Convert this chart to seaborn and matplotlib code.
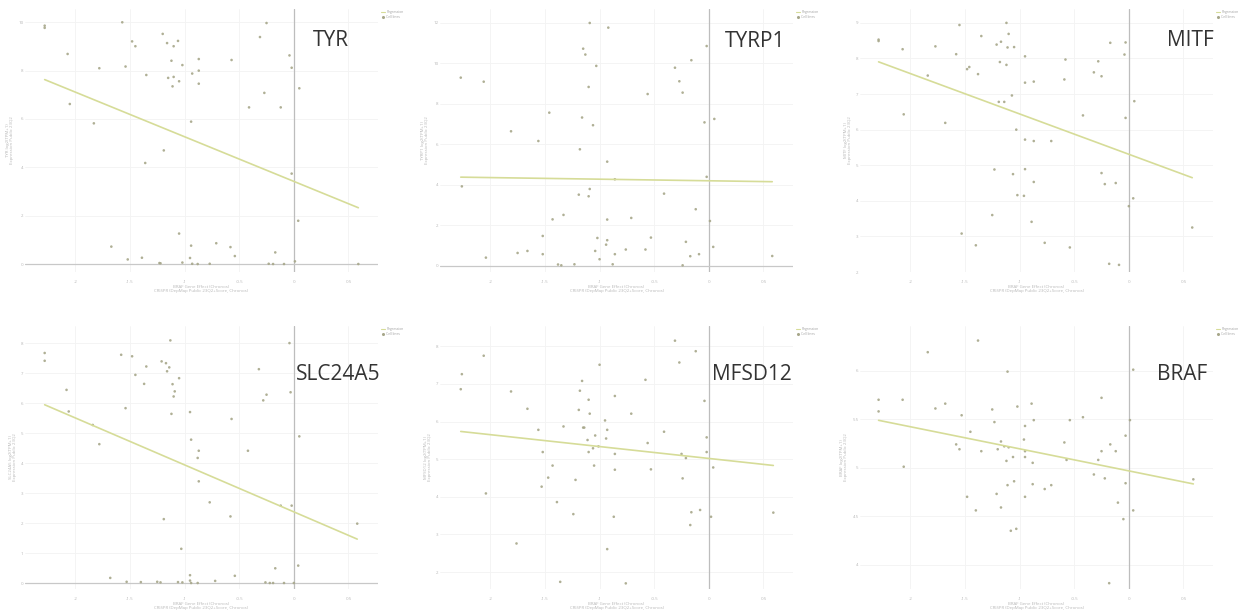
import matplotlib
matplotlib.use("Agg")
import matplotlib.pyplot as plt
import seaborn as sns
import pandas as pd

sns.set_theme(style="white")
plt.rcParams['font.family'] = ['Open Sans', 'DejaVu Sans']

# ---- data (x = BRAF gene effect, y = expression) ----
tyr_x = [-2.28, -2.28, -1.57, -0.25, -1.20, -0.31, -1.48, -1.45, -1.16, -1.06, -1.10, -2.07, -0.04,
         -1.12, -0.87, -0.57, -1.02, -1.78, -1.54, -0.02, -0.87, -1.35, -0.93, -1.15, -1.10, -1.05,
         -1.11, -0.87, 0.05, -0.27, -2.05, -0.41, -0.12, -0.94, -1.83, -1.19, -1.36, -0.02, 0.04,
         -1.05, -1.67, -0.94, -0.71, -0.58, -0.17, -0.54, -1.52, -1.39, -0.95, -1.23, -1.22, -1.02,
         -0.93, -0.88, -0.77, -0.23, -0.19, -0.09, 0.01, 0.59]
tyr_y = [9.86, 9.77, 10.0, 9.97, 9.52, 9.39, 9.21, 9.01, 9.14, 9.23, 9.01, 8.69, 8.63,
         8.41, 8.48, 8.44, 8.23, 8.10, 8.17, 8.12, 8.00, 7.82, 7.88, 7.70, 7.74, 7.56,
         7.35, 7.46, 7.27, 7.08, 6.62, 6.48, 6.48, 5.89, 5.82, 4.70, 4.18, 3.74, 1.79,
         1.26, 0.72, 0.76, 0.86, 0.70, 0.48, 0.33, 0.19, 0.26, 0.25, 0.04, 0.03, 0.06,
         0.01, 0.0, 0.01, 0.01, 0.0, 0.0, 0.11, 0.0]

tyrp1_x = [-1.09, -0.92, -0.02, -1.15, -1.13, -0.16, -1.03, -0.31, -2.27, -2.06, -0.27, -1.10, -0.24,
           -0.56, -1.46, -1.16, 0.05, -0.04, -1.06, -1.81, -1.56, -1.18, -0.93, -0.02, -0.86, -2.26,
           -1.09, -1.19, -1.10, -0.41, -0.12, -1.33, -1.43, -0.93, -0.71, 0.01, -1.52, -1.02, -0.53,
           -0.93, -0.94, -0.21, 0.04, -1.75, -1.66, -1.04, -0.76, -0.58, -1.52, -0.86, -0.09, -2.04,
           -1.00, -0.17, 0.58, -1.38, -1.35, -1.23, -0.88, -0.24]
tyrp1_y = [12.0, 11.77, 10.86, 10.73, 10.44, 10.16, 9.88, 9.79, 9.30, 9.10, 9.12, 8.84, 8.56,
           8.49, 7.57, 7.33, 7.26, 7.09, 6.95, 6.65, 6.17, 5.76, 5.15, 4.40, 4.28, 3.93,
           3.80, 3.52, 3.44, 3.57, 2.80, 2.52, 2.30, 2.29, 2.37, 2.22, 1.48, 1.38, 1.40,
           1.27, 1.05, 1.19, 0.94, 0.64, 0.74, 0.74, 0.81, 0.81, 0.58, 0.58, 0.58, 0.41,
           0.33, 0.48, 0.49, 0.07, 0.03, 0.08, 0.08, 0.03]

mitf_x = [-1.12, -1.55, -2.29, -2.29, -1.35, -1.10, -1.21, -1.17, -1.11, -1.05, -0.17, -0.03, -1.77,
          -2.07, -1.58, -0.95, -0.04, -0.58, -0.28, -1.18, -1.12, -1.46, -1.48, -0.32, -1.38, -0.25,
          -1.84, -0.95, -0.87, -0.59, -1.07, -1.19, -1.14, 0.05, -2.06, -0.42, -0.03, -1.68, -1.03,
          -0.95, -0.87, -0.71, -1.23, -1.06, -0.95, -0.25, -0.22, -0.12, -0.87, -1.02, -0.96, 0.04,
          0.0, -1.25, -0.89, 0.58, -1.53, -1.40, -0.77, -0.54, -0.18, -0.09]
mitf_y = [9.0, 8.94, 8.53, 8.49, 8.63, 8.69, 8.39, 8.47, 8.31, 8.32, 8.44, 8.45, 8.34,
          8.26, 8.12, 8.06, 8.11, 7.97, 7.92, 7.90, 7.82, 7.76, 7.70, 7.61, 7.56, 7.50,
          7.52, 7.32, 7.35, 7.41, 6.96, 6.78, 6.78, 6.80, 6.43, 6.40, 6.33, 6.19, 6.00,
          5.72, 5.68, 5.68, 4.88, 4.75, 4.89, 4.78, 4.47, 4.50, 4.53, 4.16, 4.14, 4.07,
          3.85, 3.60, 3.41, 3.25, 3.08, 2.75, 2.82, 2.69, 2.23, 2.20]

slc_x = [-1.13, -0.04, -2.28, -2.28, -1.58, -1.48, -1.21, -1.17, -1.14, -1.16, -1.35, -1.45, -0.32,
         -1.05, -1.37, -1.11, -2.08, -1.09, -0.03, -0.25, -1.10, -0.28, -1.54, -2.06, -0.95, -1.12,
         -0.57, -1.84, 0.05, -0.94, -1.78, -0.87, -0.42, -0.88, -0.87, -0.77, -0.12, -0.02, -1.19,
         -0.58, 0.58, -1.03, 0.04, -0.17, -0.54, -1.68, -0.95, -1.53, -1.40, -1.25, -1.22, -1.06,
         -1.02, -0.95, -0.94, -0.88, -0.72, -0.26, -0.22, -0.19, -0.09, 0.0]
slc_y = [8.09, 8.0, 7.67, 7.41, 7.61, 7.56, 7.39, 7.33, 7.19, 7.06, 7.22, 6.94, 7.13,
         6.83, 6.64, 6.63, 6.44, 6.39, 6.36, 6.28, 6.22, 6.09, 5.83, 5.72, 5.70, 5.64,
         5.47, 5.27, 4.89, 4.78, 4.63, 4.41, 4.41, 4.17, 3.39, 2.69, 2.58, 2.58, 2.13,
         2.22, 1.98, 1.14, 0.58, 0.49, 0.24, 0.17, 0.26, 0.04, 0.03, 0.04, 0.02, 0.03,
         0.02, 0.08, 0.0, 0.0, 0.07, 0.02, 0.0, 0.0, 0.0, 0.0]

mfsd_x = [-0.31, -0.12, -2.06, -0.27, -1.00, -2.26, -0.58, -1.16, -2.27, -1.81, -1.18, -0.86, -1.10,
          -0.04, -1.66, -1.19, -1.09, -0.71, -0.95, -1.33, -1.15, -1.14, -1.56, -0.93, -0.41, -1.04,
          -1.11, -0.94, -0.02, -0.56, -1.01, -1.06, -1.52, -1.10, -0.86, -0.25, -0.21, -0.02, -1.05,
          -1.43, 0.04, -0.86, -0.53, -1.47, -1.22, -0.24, -1.53, -2.04, -1.39, -1.24, -0.87, -0.16,
          -0.08, 0.02, 0.59, -0.17, -1.76, -0.93, -1.36, -0.76]
mfsd_y = [8.15, 7.87, 7.75, 7.57, 7.51, 7.26, 7.11, 7.08, 6.86, 6.80, 6.82, 6.68, 6.58,
          6.55, 6.34, 6.31, 6.21, 6.21, 6.03, 5.87, 5.84, 5.84, 5.78, 5.78, 5.73, 5.63,
          5.51, 5.55, 5.58, 5.43, 5.34, 5.29, 5.19, 5.19, 5.14, 5.14, 5.03, 5.19, 4.83,
          4.83, 4.78, 4.72, 4.73, 4.51, 4.45, 4.49, 4.27, 4.09, 3.86, 3.54, 3.47, 3.59,
          3.65, 3.47, 3.58, 3.25, 2.76, 2.61, 1.74, 1.70]

braf_x = [-1.38, -1.84, -1.11, 0.04, -2.29, -2.07, -0.25, -2.29, -1.77, -1.68, -1.25, -1.02, -0.89,
          -1.53, -0.42, -1.23, -0.87, -0.54, 0.01, -1.45, -0.95, -0.03, -0.96, -1.58, -1.17, -0.59,
          -0.17, -1.55, -1.35, -1.20, -1.14, -1.10, -0.95, -0.25, -0.12, -1.06, -0.95, -1.12, -0.88,
          -0.57, -0.28, -2.06, -0.32, -0.22, 0.59, -1.05, -1.11, -0.88, -0.77, -0.71, -0.03, -1.21,
          -0.95, -1.48, -0.10, -1.17, -1.40, 0.04, -0.05, -1.08, -1.03, -0.18]
braf_y = [6.31, 6.19, 5.99, 6.01, 5.70, 5.70, 5.72, 5.58, 5.61, 5.66, 5.60, 5.63, 5.66,
          5.54, 5.52, 5.47, 5.49, 5.49, 5.49, 5.37, 5.43, 5.33, 5.29, 5.24, 5.27, 5.26,
          5.24, 5.19, 5.17, 5.19, 5.22, 5.21, 5.17, 5.17, 5.17, 5.11, 5.11, 5.07, 5.05,
          5.08, 5.08, 5.01, 4.93, 4.89, 4.88, 4.86, 4.82, 4.83, 4.78, 4.82, 4.84, 4.73,
          4.70, 4.70, 4.64, 4.59, 4.56, 4.56, 4.47, 4.35, 4.37, 3.81]

genes = ["TYR", "TYRP1", "MITF", "SLC24A5", "MFSD12", "BRAF"]
xs = [tyr_x, tyrp1_x, mitf_x, slc_x, mfsd_x, braf_x]
ys = [tyr_y, tyrp1_y, mitf_y, slc_y, mfsd_y, braf_y]

x_ticks = [-2, -1.5, -1, -0.5, 0, 0.5]
x_ticklabels = ["-2", "-1.5", "-1", "-0.5", "0", "0.5"]
y_ticks = [
    [0, 2, 4, 6, 8, 10],
    [0, 2, 4, 6, 8, 10, 12],
    [2, 3, 4, 5, 6, 7, 8, 9],
    [0, 1, 2, 3, 4, 5, 6, 7, 8],
    [2, 3, 4, 5, 6, 7, 8],
    [4, 4.5, 5, 5.5, 6],
]
y_limits = [(-0.33, 10.55), (-0.30, 12.69), (2.0, 9.39), (-0.2, 8.57), (1.55, 8.54), (3.75, 6.46)]
x_limits = (-2.46, 0.77)

xlabel = "BRAF Gene Effect (Chronos)\nCRISPR (DepMap Public 23Q2+Score, Chronos)"
legend_labels = ["Regression", "Cell lines"]

line_color = "#d6dc98"
point_color = "#a7a78a"
faint = "#b8b8b8"

W, H = 1247, 613
fig = plt.figure(figsize=(W / 100, H / 100), dpi=100)

col_px = [(25, 378), (440, 793), (860, 1213)]
row_px = [(9, 272), (326, 589)]
title_pos = [(0.867, 0.882), (0.892, 0.875), (0.935, 0.882),
             (0.887, 0.814), (0.884, 0.814), (0.912, 0.814)]

for i, gene in enumerate(genes):
    r, c = divmod(i, 3)
    x0, x1 = col_px[c]
    y0, y1 = row_px[r]
    ax = fig.add_axes([x0 / W, 1 - y1 / H, (x1 - x0) / W, (y1 - y0) / H])
    df = pd.DataFrame({"effect": xs[i], "expr": ys[i]})

    ax.grid(True, color="#f3f3f3", linewidth=0.6)
    ax.set_axisbelow(True)
    ax.axvline(0, color="#bdbdbd", linewidth=0.9, zorder=1)
    if y_limits[i][0] < 0:
        ax.axhline(0, color="#c8c8c8", linewidth=0.9, zorder=1)

    sns.regplot(data=df, x="effect", y="expr", ax=ax, ci=None,
                scatter_kws=dict(s=3.5, color=point_color, edgecolor="none", alpha=0.9),
                line_kws=dict(color=line_color, linewidth=1.2), label=None)

    ax.set_xlim(*x_limits)
    ax.set_ylim(*y_limits[i])
    ax.set_xticks(x_ticks)
    ax.set_xticklabels(x_ticklabels)
    ax.set_yticks(y_ticks[i])
    ax.set_yticklabels([f"{v:g}" for v in y_ticks[i]])
    ax.tick_params(axis="both", length=0, labelsize=3.2, labelcolor=faint)
    ax.tick_params(axis="x", pad=6)
    ax.tick_params(axis="y", pad=1)
    for sp in ax.spines.values():
        sp.set_visible(False)

    ax.set_xlabel(xlabel, fontsize=3.2, color=faint, labelpad=0.5, linespacing=1.1)
    ax.set_ylabel(f"{gene} log2(TPM+1)\nExpression Public 23Q2", fontsize=3.2,
                  color=faint, labelpad=3, linespacing=1.1)

    ax.text(title_pos[i][0], title_pos[i][1], gene, transform=ax.transAxes,
            ha="center", va="center", fontsize=15, color="#333333")

    handles = [plt.Line2D([], [], color=line_color, linewidth=0.8),
               plt.Line2D([], [], color=point_color, marker="o", markersize=1.2, linestyle="none")]
    leg = ax.legend(handles, legend_labels, loc="upper left", bbox_to_anchor=(1.005, 1.0),
                    fontsize=2.4, frameon=False, handlelength=1.2, handletextpad=0.4,
                    borderaxespad=0, labelspacing=0.3)
    for t in leg.get_texts():
        t.set_color("#a0a0a0")

fig.savefig("out.png", dpi=100, facecolor="white")
